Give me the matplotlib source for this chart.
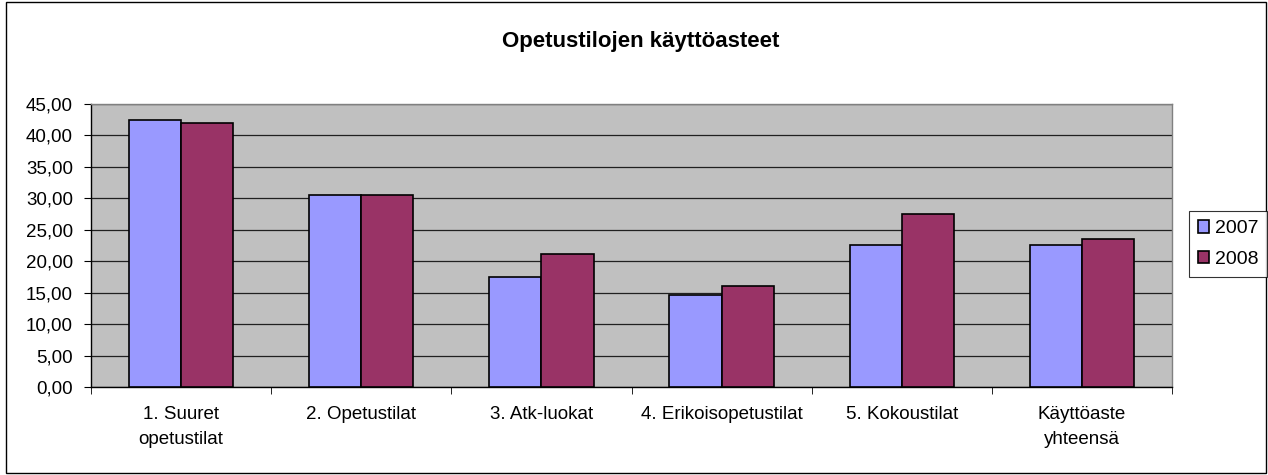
import numpy as np
import matplotlib
matplotlib.use("Agg")
import matplotlib.pyplot as plt
from matplotlib.patches import Rectangle

plt.rcParams['font.family'] = ['Liberation Sans', 'DejaVu Sans']

# data
categories = ['1. Suuret\nopetustilat', '2. Opetustilat', '3. Atk-luokat',
              '4. Erikoisopetustilat', '5. Kokoustilat', 'Käyttöaste\nyhteensä']
values_2007 = [42.4, 30.6, 17.5, 14.6, 22.6, 22.6]
values_2008 = [41.9, 30.6, 21.2, 16.0, 27.5, 23.5]
series_labels = ['2007', '2008']
yticks = [0, 5, 10, 15, 20, 25, 30, 35, 40, 45]

fig = plt.figure(figsize=(12.68, 4.75), dpi=100)
# outer chart border
fig.patches.append(Rectangle((6 / 1268, 2 / 475), 1260 / 1268, 471 / 475,
                             transform=fig.transFigure, fill=False,
                             edgecolor='black', linewidth=1))

ax = fig.add_axes([91 / 1268, 1 - 387 / 475, 1081 / 1268, 283 / 475])
ax.set_facecolor('#C0C0C0')

x = np.arange(len(categories))
w = 0.29
ax.bar(x - w / 2, values_2007, w, color='#9999FF', edgecolor='black',
       linewidth=1.2, label=series_labels[0], zorder=3)
ax.bar(x + w / 2, values_2008, w, color='#993366', edgecolor='black',
       linewidth=1.2, label=series_labels[1], zorder=3)

ax.set_xlim(-0.5, len(categories) - 0.5)
ax.set_ylim(0, 45)
ax.set_yticks(yticks)
ax.set_yticklabels([f'{v:.2f}'.replace('.', ',') for v in yticks], fontsize=13.5)
ax.yaxis.grid(True, color='#202020', linewidth=0.9, zorder=1)
ax.set_axisbelow(True)

# category labels centered, ticks at boundaries
ax.set_xticks(x)
ax.set_xticklabels(categories, fontsize=13.5, linespacing=1.6)
ax.tick_params(axis='x', length=0, pad=14)
ax.set_xticks(np.arange(-0.5, len(categories)), minor=True)
ax.tick_params(axis='x', which='minor', length=5, color='black')
ax.tick_params(axis='y', length=5, pad=8)

ax.spines['left'].set_color('black')
ax.spines['bottom'].set_color('black')
ax.spines['top'].set_color('#808080')
ax.spines['right'].set_color('#808080')
for s in ax.spines.values():
    s.set_linewidth(1)

fig.text(641 / 1268, 1 - 42 / 475, 'Opetustilojen käyttöasteet', fontsize=16,
         fontweight='bold', ha='center', va='center')

leg = fig.legend(loc='center', bbox_to_anchor=(1228 / 1268, 1 - 244 / 475),
                 fontsize=14, frameon=True, fancybox=False, edgecolor='black',
                 handlelength=0.6, handleheight=0.6, handletextpad=0.3,
                 borderpad=0.45, labelspacing=0.7, borderaxespad=0)
leg.get_frame().set_linewidth(0.8)

fig.savefig('out.png', dpi=100)
